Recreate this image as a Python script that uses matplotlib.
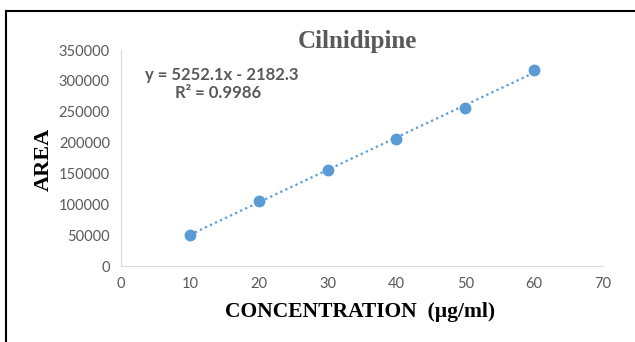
import numpy as np
import matplotlib
matplotlib.use("Agg")
import matplotlib.pyplot as plt
from matplotlib.lines import Line2D

conc = [10, 20, 30, 40, 50, 60]
area = [50500, 105500, 155800, 206000, 256000, 318000]
x_ticks = [0, 10, 20, 30, 40, 50, 60, 70]
y_ticks = [0, 50000, 100000, 150000, 200000, 250000, 300000, 350000]

blue = "#5B9BD5"
grey = "#595959"

fig = plt.figure(figsize=(6.35, 3.42), dpi=100)
ax = fig.add_axes([0.1906, 0.2222, 0.759, 0.6316])

# trendline from a linear fit
m, b = np.polyfit(conc, area, 1)
xs = np.array([conc[0], conc[-1]])
ax.plot(xs, m * xs + b, linestyle=(0, (1, 1.5)), color=blue, linewidth=1.6)
ax.plot(conc, area, "o", color=blue, markersize=7.5, zorder=3)

ax.set_xlim(0, 70)
ax.set_ylim(0, 350000)
ax.set_xticks(x_ticks)
ax.set_yticks(y_ticks)
ax.tick_params(length=0, labelsize=10.5, labelcolor=grey, pad=8)
for lab in ax.get_xticklabels() + ax.get_yticklabels():
    lab.set_family("Lato")
for s in ["top", "right"]:
    ax.spines[s].set_visible(False)
for s in ["left", "bottom"]:
    ax.spines[s].set_color("#D9D9D9")

fig.text(0.5625, 0.878, "Cilnidipine", ha="center", va="center",
         fontsize=18, fontweight="bold", family="Liberation Serif", color=grey)
fig.text(0.229, 0.781, "y = 5252.1x - 2182.3", ha="left", va="center",
         fontsize=12, fontweight="bold", family="Lato", color=grey)
fig.text(0.343, 0.728, "R\u00b2 = 0.9986", ha="center", va="center",
         fontsize=12, fontweight="bold", family="Lato", color=grey)
fig.text(0.567, 0.089, "CONCENTRATION  (\u00b5g/ml)", ha="center", va="center",
         fontsize=15.5, fontweight="bold", family="Liberation Serif", color="black")
fig.text(0.069, 0.535, "AREA", ha="center", va="center", rotation=90,
         fontsize=16, fontweight="bold", family="Liberation Serif", color="black")

# frame border (left and top visible)
fig.add_artist(Line2D([0.009, 0.009], [0.0, 0.968], color="black", linewidth=1.5,
                      transform=fig.transFigure))
fig.add_artist(Line2D([0.009, 1.0], [0.968, 0.968], color="black", linewidth=1.5,
                      transform=fig.transFigure))

fig.savefig("out.png", dpi=100)
